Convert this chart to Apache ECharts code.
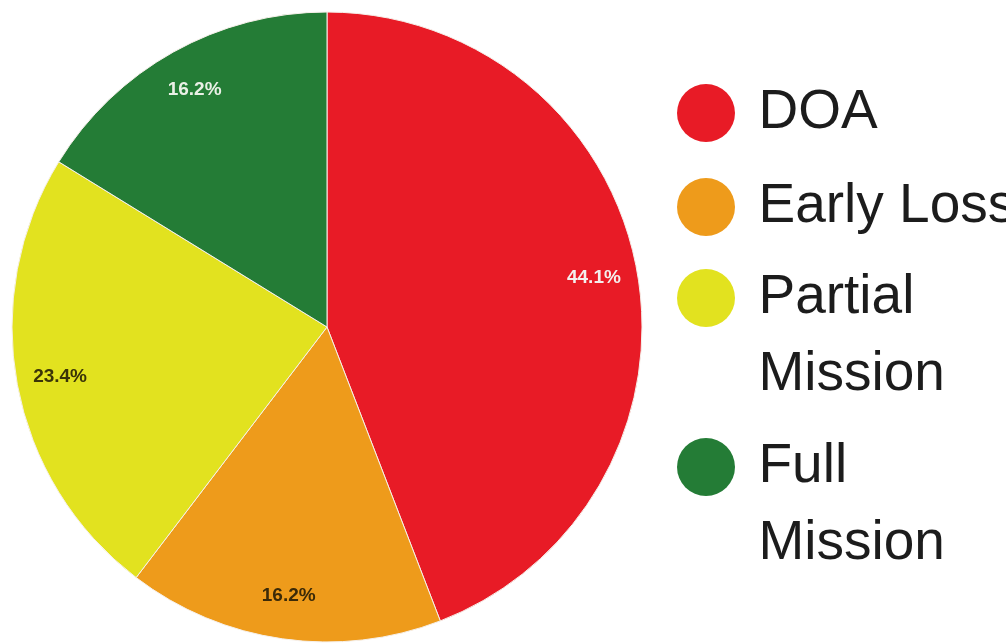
<!DOCTYPE html>
<html>
<head>
<meta charset="utf-8">
<style>
  html, body { margin: 0; padding: 0; background: #ffffff; }
  #chart { width: 1006px; height: 644px; }
</style>
<script src="https://cdn.jsdelivr.net/npm/echarts@6/dist/echarts.min.js"></script>
</head>
<body>
<div id="chart"></div>
<script>
const categories = ['DOA', 'Early Loss', 'Partial Mission', 'Full Mission'];
const values = [44.1, 16.2, 23.4, 16.2];
const sliceColors = ['#e81b26', '#ee9b1b', '#e2e21f', '#247c36'];
const labelColors = ['#f4f0ee', '#3b2a08', '#3a3408', '#eaf0e6'];
const legendLabels = ['DOA', 'Early Loss', '\nPartial\nMission', '\nFull\nMission'];

const chart = echarts.init(document.getElementById('chart'), null, { renderer: 'canvas' });

const pieData = categories.map((name, i) => ({
  name: name,
  value: values[i],
  itemStyle: { color: sliceColors[i] }
}));
const labelData = categories.map((name, i) => ({
  name: name,
  value: values[i],
  label: { color: labelColors[i] }
}));

const legendTops = [84, 178, 182.5, 351.5];
const legends = categories.map((name, i) => {
  const multi = legendLabels[i].indexOf('\n') >= 0;
  return {
    data: [name],
    orient: 'vertical',
    left: 677,
    top: legendTops[i],
    padding: 0,
    icon: 'circle',
    itemWidth: 95,
    itemHeight: 58,
    selectedMode: false,
    itemStyle: { borderWidth: 0 },
    formatter: function () { return legendLabels[i]; },
    textStyle: {
      fontFamily: 'Liberation Sans, Arial, sans-serif',
      fontSize: 55,
      color: '#1c1c1c',
      lineHeight: multi ? 77 : 58
    }
  };
});

chart.setOption({
  backgroundColor: '#ffffff',
  animation: false,
  legend: legends,
  series: [
    {
      type: 'pie',
      center: [327, 327],
      radius: [0, 315],
      startAngle: 90,
      clockwise: true,
      silent: true,
      itemStyle: { borderColor: '#f6f0ea', borderWidth: 1 },
      label: { show: false },
      labelLine: { show: false },
      emphasis: { disabled: true },
      data: pieData
    },
    {
      type: 'pie',
      center: [327, 327],
      radius: [222, 315],
      startAngle: 90,
      clockwise: true,
      silent: true,
      itemStyle: { color: 'rgba(0,0,0,0)', borderWidth: 0 },
      label: {
        show: true,
        position: 'inside',
        formatter: function (p) { return p.value.toFixed(1) + '%'; },
        fontFamily: 'Liberation Sans, Arial, sans-serif',
        fontSize: 19,
        fontWeight: 'bold'
      },
      labelLine: { show: false },
      emphasis: { disabled: true },
      data: labelData
    }
  ]
});
</script>
</body>
</html>
